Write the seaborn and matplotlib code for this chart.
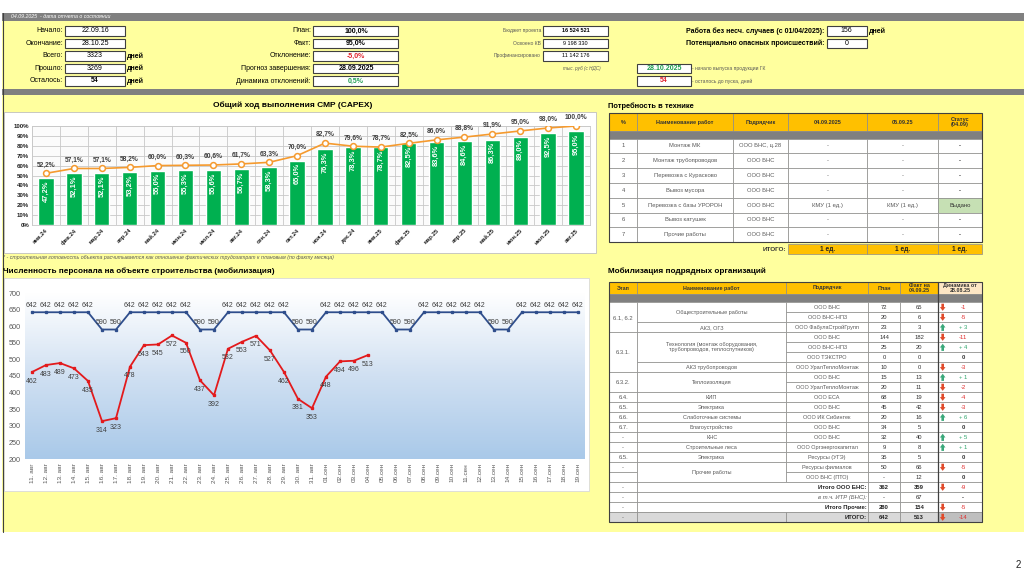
import numpy as np
import pandas as pd
import seaborn as sns
import matplotlib.pyplot as plt
from matplotlib.patches import Rectangle, FancyArrow
from matplotlib.colors import LinearSegmentedColormap

W, H = 1024, 574
YEL = "#FFFF9E"
ORANGE = "#FFC000"
GRAY = "#808080"
TXT = "#595959"

# ---- header figures ----
left_labels = ["Начало:", "Окончание:", "Всего:", "Прошло:", "Осталось:"]
left_values = ["22.09.16", "28.10.25", "3323", "3269", "54"]
left_units = ["", "", "дней", "дней", "дней"]
mid_labels = ["План:", "Факт:", "Отклонение:", "Прогноз завершения:", "Динамика отклонений:"]
mid_values = ["100,0%", "95,0%", "-5,0%", "28.09.2025", "0,5%"]
mid_colors = ["#000000", "#000000", "#E0202A", "#000000", "#1E9E50"]
fin_labels = ["Бюджет проекта", "Освоено КВ", "Профинансировано"]
fin_values = ["16 524 521", "9 198 330", "11 142 176"]

# ---- CAPEX chart ----
months = ["янв.24", "фев.24", "мар.24", "апр.24", "май.24", "июн.24", "июл.24",
          "авг.24", "сен.24", "окт.24", "ноя.24", "дек.24", "янв.25", "фев.25",
          "мар.25", "апр.25", "май.25", "июн.25", "июл.25", "авг.25"]
fact_pct = [47.2, 52.1, 52.1, 53.2, 55.0, 55.3, 55.6, 56.7, 58.3, 65.0,
            76.3, 78.3, 78.7, 82.5, 83.6, 84.6, 86.3, 89.0, 92.5, 95.0]
plan_pct = [52.2, 57.1, 57.1, 58.2, 60.0, 60.3, 60.6, 61.7, 63.3, 70.0,
            82.7, 79.6, 78.7, 82.5, 86.0, 88.8, 91.9, 95.0, 98.0, 100.0]

# ---- personnel chart ----
days = [f"{d}. авг" for d in range(11, 32)] + [f"{d:02d}.сен" for d in range(1, 20)]
plan_staff = [642, 642, 642, 642, 642, 590, 590, 642, 642, 642, 642, 642, 590, 590,
              642, 642, 642, 642, 642, 590, 590, 642, 642, 642, 642, 642, 590, 590,
              642, 642, 642, 642, 642, 590, 590, 642, 642, 642, 642, 642]
fact_staff = [462, 483, 489, 473, 435, 314, 323, 478, 543, 545, 572, 550, 437, 392,
              532, 553, 571, 527, 462, 381, 353, 448, 494, 496, 513]

# ---- equipment table ----
tech_head = ["%", "Наименование работ", "Подрядчик", "04.09.2025", "05.09.25", "Статус\n(04.09)"]
tech_no = ["1", "2", "3", "4", "5", "6", "7"]
tech_work = ["Монтаж МК", "Монтаж трубопроводов", "Перевозка с Курасково", "Вывоз мусора",
             "Перевозка с базы УРОРОН", "Вывоз катушек", "Прочие работы"]
tech_contr = ["ООО БНС, ц.28", "ООО БНС", "ООО БНС", "ООО БНС", "ООО БНС", "ООО БНС", "ООО БНС"]
tech_d1 = ["-", "-", "-", "-", "КМУ (1 ед.)", "-", "-"]
tech_d2 = ["-", "-", "-", "-", "КМУ (1 ед.)", "-", "-"]
tech_status = ["-", "-", "-", "-", "Выдано", "-", "-"]
tech_total = ["1 ед.", "1 ед.", "1 ед."]

# ---- mobilisation table ----
mob_head = ["Этап", "Наименование работ", "Подрядчик", "План", "Факт на\n04.09.25", "Динамика от\n28.08.25"]
mob_stage = ["6.1, 6.2", None, None, "6.3.1.", None, None, None, "6.3.2.", None, "6.4.",
             "6.5.", "6.6.", "6.7.", "-", "-", "6.5.", "-", "", "-", "-", "-", "-"]
mob_work = ["Общестроительные работы", None, "АКЗ, ОГЗ",
            "Технология (монтаж оборудования,\nтрубопроводов, теплоспутников)", None, None,
            "АКЗ трубопроводов", "Теплоизоляция", None, "КИП", "Электрика",
            "Слаботочные системы", "Благоустройство", "КНС", "Строительные леса",
            "Электрика", "Прочие работы", None]
mob_contr = ["ООО БНС", "ООО БНС-НПЗ", "ООО ФабулаСтройГрупп", "ООО БНС", "ООО БНС-НПЗ",
             "ООО ТЭКСТРО", "ООО УралТеплоМонтаж", "ООО БНС", "ООО УралТеплоМонтаж",
             "ООО ЕСА", "ООО БНС", "ООО ИК Сибинтек", "ООО БНС", "ООО БНС",
             "ООО Оргэнергокапитал", "Ресурсы (УГЭ)", "Ресурсы филиалов", "ООО БНС (ПТО)"]
mob_plan = ["72", "20", "23", "144", "25", "0", "10", "15", "20", "68", "45", "20", "34",
            "32", "9", "35", "50", "-"]
mob_fact = ["65", "6", "3", "182", "20", "0", "0", "13", "11", "19", "42", "16", "5",
            "40", "8", "5", "66", "12"]
mob_delta = [-1, -5, 3, -11, 4, 0, -3, 1, -2, -4, -3, 6, 0, 5, 1, 0, -5, 0]
tot_labels = ["Итого ООО БНС:", "в т.ч. ИТР (БНС):", "Итого Прочие:", "ИТОГО:"]
tot_plan = ["362", "-", "280", "642"]
tot_fact = ["359", "67", "154", "513"]
tot_delta = [-9, None, -5, -14]

sns.set_theme(style="white")
plt.rcParams["font.family"] = ["Liberation Sans", "DejaVu Sans"]

fig = plt.figure(figsize=(W / 100, H / 100), dpi=100)
bg = fig.add_axes([0, 0, 1, 1], zorder=0)
bg.set_xlim(0, W)
bg.set_ylim(H, 0)
bg.axis("off")


def px_axes(x0, y0, x1, y1):
    return fig.add_axes([x0 / W, 1 - y1 / H, (x1 - x0) / W, (y1 - y0) / H], zorder=2)


def box(x0, y0, x1, y1, fc, ec="none", lw=0.6, z=1):
    bg.add_patch(Rectangle((x0, y0), x1 - x0, y1 - y0, facecolor=fc, edgecolor=ec, linewidth=lw, zorder=z))


def txt(x, y, s, size=5, ha="left", color="#000000", bold=False, italic=False, z=3):
    bg.text(x, y, s, fontsize=size, ha=ha, va="center", color=color, zorder=z,
            fontweight="bold" if bold else "normal", fontstyle="italic" if italic else "normal",
            linespacing=1.0)


def cell(x0, x1, y0, y1, s="", fc="white", color=TXT, size=4.2, bold=False, italic=False, ha="center"):
    box(x0, y0, x1, y1, fc, ec="#8C8C8C", lw=0.5)
    if s:
        tx = {"center": (x0 + x1) / 2, "right": x1 - 2, "left": x0 + 2}[ha]
        txt(tx, (y0 + y1) / 2, s, size=size, ha=ha, color=color, bold=bold, italic=italic)


# ---- page background ----
box(2, 13, W, 21, GRAY)
box(2, 21, W, 89, YEL)
box(2, 89, W, 94.5, GRAY)
box(2, 94.5, W, 532, YEL)
bg.plot([2.5, 2.5], [13, 532], color="#404040", lw=0.8, zorder=2)
txt(11, 17, "04.09.2025  - дата отчета о состоянии", size=3.8, color="white", italic=True)
txt(1018, 565, "2", size=7, ha="center", color="#222222")

# ---- header block ----
row_y = [30.9 + 12.5 * i for i in range(5)]
for y, lab, val, unit in zip(row_y, left_labels, left_values, left_units):
    txt(63, y, lab, size=5, ha="right")
    box(65, y - 4.8, 125, y + 4.8, "white", ec="#404040", lw=0.8, z=2)
    txt(95, y, val, size=5, ha="center", bold=(val == "54"))
    if unit:
        txt(127, y, unit, size=5, bold=True)
for y, lab, val, col in zip(row_y, mid_labels, mid_values, mid_colors):
    txt(311, y, lab, size=5, ha="right")
    box(313.3, y - 4.8, 398.3, y + 4.8, "white", ec="#404040", lw=0.8, z=2)
    txt(356, y, val, size=5, ha="center", bold=True, color=col)
for y, lab, val in zip(row_y, fin_labels, fin_values):
    txt(541, y, lab, size=3.6, ha="right", color=TXT)
    box(543.3, y - 4.8, 607.7, y + 4.8, "white", ec="#404040", lw=0.8, z=2)
    txt(575.5, y, val, size=4, ha="center", bold=(val == "16 524 521"))
txt(601, row_y[3], "тыс. руб (с НДС)", size=3.3, ha="right", italic=True, color=TXT)
box(636.7, row_y[3] - 4.8, 691, row_y[3] + 4.8, "white", ec="#404040", lw=0.8, z=2)
txt(664, row_y[3], "28.10.2025", size=5, ha="center", bold=True, color="#1E9E50")
txt(692.5, row_y[3], "- начало выпуска продукции ГК", size=3.6, color=TXT)
box(636.7, row_y[4] - 4.8, 691, row_y[4] + 4.8, "white", ec="#404040", lw=0.8, z=2)
txt(664, row_y[4], "54", size=5, ha="center", bold=True, color="#E0202A")
txt(692.5, row_y[4], "- осталось до пуска, дней", size=3.6, color=TXT)
txt(824.5, row_y[0], "Работа без несч. случаев (с 01/04/2025):", size=5, ha="right", bold=True)
box(826.7, row_y[0] - 4.8, 866.7, row_y[0] + 4.8, "white", ec="#404040", lw=0.8, z=2)
txt(846.7, row_y[0], "156", size=5, ha="center")
txt(868.5, row_y[0], "дней", size=5, bold=True)
txt(824.5, row_y[1], "Потенциально опасных происшествий:", size=5, ha="right", bold=True)
box(826.7, row_y[1] - 4.8, 866.7, row_y[1] + 4.8, "white", ec="#404040", lw=0.8, z=2)
txt(846.7, row_y[1], "0", size=5, ha="center")

# ---- CAPEX chart ----
txt(293, 105, "Общий ход выполнения СМР (CAPEX)", size=6, ha="center", bold=True)
box(3.5, 112, 596, 253, "white", ec="#BFBFBF", lw=0.6)
txt(3, 258, "* - строительная готовность объекта расчитывается как отношение фактических "
            "трудозатрат к плановым (по факту месяца)", size=3.8, italic=True, color=TXT)

cap = pd.DataFrame({"month": months, "fact": fact_pct, "plan": plan_pct})
ax1 = px_axes(32, 126, 590, 225)
ax1.set_facecolor("#FBFBFB")
sns.barplot(data=cap, x="month", y="fact", color="#00B050", width=0.55, saturation=1,
            ax=ax1, zorder=2)
sns.pointplot(data=cap, x="month", y="plan", color="#F59A2E", markers="o", markersize=4.2,
              linewidth=1.2, markeredgewidth=1.1, errorbar=None, ax=ax1, zorder=3)
ax1.lines[-1].set_markerfacecolor("white")
for i, (f, p) in enumerate(zip(fact_pct, plan_pct)):
    ax1.text(i, f - 2.5, f"{f:.1f}%".replace(".", ","), rotation=90, ha="center", va="top",
             color="white", fontsize=5.4, fontweight="bold", zorder=4)
    ax1.annotate(f"{p:.1f}%".replace(".", ","), (i, p), xytext=(0, 6), textcoords="offset points",
                 ha="center", va="center", color="#404040", fontsize=4.8, fontweight="bold",
                 zorder=4, annotation_clip=False)
ax1.set_xlim(-0.5, len(months) - 0.5)
ax1.set_ylim(0, 100)
ax1.set_yticks(range(0, 101, 10))
ax1.set_yticklabels([f"{v}%" for v in range(0, 101, 10)], fontsize=4.4, fontweight="bold",
                    color="#222222")
ax1.set_xticks(range(len(months)))
ax1.set_xticklabels(months, rotation=45, ha="right", rotation_mode="anchor", fontsize=4.2,
                    fontweight="bold", color="#222222")
ax1.tick_params(length=0, pad=2)
ax1.yaxis.grid(True, color="#C8C8C8", lw=0.6)
for k in range(len(months) + 1):
    ax1.axvline(k - 0.5, color="#C8C8C8", lw=0.6, zorder=0)
ax1.set_axisbelow(True)
ax1.set_xlabel("")
ax1.set_ylabel("")
for s in ax1.spines.values():
    s.set_color("#C8C8C8")
    s.set_linewidth(0.6)

# ---- personnel chart ----
txt(3, 271.5, "Численность персонала на объекте строительства (мобилизация)", size=5.9, bold=True)
box(4, 278, 589, 491, "white", ec="#D9D9D9", lw=0.6)
staff = pd.DataFrame({"day": days, "plan": plan_staff,
                      "fact": fact_staff + [np.nan] * (len(days) - len(fact_staff))})
ax2 = px_axes(25, 293, 585, 459)
sns.pointplot(data=staff, x="day", y="plan", color="#2F4E8C", markers="s", markersize=2.0,
              linewidth=1.3, errorbar=None, ax=ax2, zorder=3)
sns.pointplot(data=staff, x="day", y="fact", color="#E31A1C", markers="s", markersize=2.0,
              linewidth=1.3, errorbar=None, ax=ax2, zorder=4)
cmap = LinearSegmentedColormap.from_list("sky", ["#FFFFFF", "#D0E0F2", "#A9C9E9"])
ax2.imshow(np.linspace(0, 1, 256).reshape(-1, 1), cmap=cmap, aspect="auto", origin="upper",
           extent=[-0.5, len(days) - 0.5, 200, 700], zorder=0)
for i, v in enumerate(plan_staff):
    ax2.annotate(str(v), (i, v), xytext=(0, 5), textcoords="offset points", ha="center",
                 va="center", fontsize=5, color="#404040", zorder=5)
for i, v in enumerate(fact_staff):
    ax2.annotate(str(v), (i, v), xytext=(0, -6.5), textcoords="offset points", ha="center",
                 va="center", fontsize=5, color="#404040", zorder=5)
ax2.set_xlim(-0.5, len(days) - 0.5)
ax2.set_ylim(200, 700)
ax2.set_yticks(range(200, 701, 50))
ax2.tick_params(axis="y", labelsize=5.2, colors="#595959", length=0, pad=3)
ax2.tick_params(axis="x", labelrotation=90, labelsize=4.6, colors="#595959", length=0, pad=3)
ax2.set_xlabel("")
ax2.set_ylabel("")
for s in ax2.spines.values():
    s.set_visible(False)

# ---- equipment table ----
txt(608, 106.5, "Потребность в технике", size=5.4, bold=True)
tx = [609, 637.3, 732.7, 788.3, 867.3, 938.3, 981.7]
for j, h in enumerate(tech_head):
    cell(tx[j], tx[j + 1], 113.3, 131, h, fc=ORANGE, color="#333333", size=4, bold=True)
box(tx[0], 131, tx[-1], 138.5, GRAY, ec="#8C8C8C", lw=0.5)
rh = 14.8
for i in range(len(tech_no)):
    y0, y1 = 138.5 + i * rh, 138.5 + (i + 1) * rh
    vals = [tech_no[i], tech_work[i], tech_contr[i], tech_d1[i], tech_d2[i]]
    for j, v in enumerate(vals):
        cell(tx[j], tx[j + 1], y0, y1, v, size=4.2)
    ok = tech_status[i] != "-"
    cell(tx[5], tx[6], y0, y1, tech_status[i], fc="#C6E0B4" if ok else "white",
         color="#333333", size=4.2, bold=not ok)
ty0 = 138.5 + len(tech_no) * rh + 2
txt(786, ty0 + 5, "ИТОГО:", size=4.6, ha="right", bold=True, color="#333333")
for j, v in enumerate(tech_total):
    cell(tx[3 + j], tx[4 + j], ty0, ty0 + 10, v, fc=ORANGE, color="#222222", size=4.8, bold=True)
box(tx[0], 113.3, tx[-1], 138.5 + len(tech_no) * rh, "none", ec="#404040", lw=0.8, z=2)

# ---- mobilisation table ----
txt(608, 271.5, "Мобилизация подрядных организаций", size=5.9, bold=True)
mx = [609, 637.3, 786, 868.3, 900, 938.3, 981.7]
for j, h in enumerate(mob_head):
    cell(mx[j], mx[j + 1], 281.7, 294.3, h, fc="#FDE6C4" if j == 5 else ORANGE,
         color="#333333", size=3.9, bold=True)
box(mx[0], 294.3, mx[-1], 302.3, GRAY, ec="#8C8C8C", lw=0.5)
r0, rr = 302.3, 10.0


def runs(col):
    out = []
    for i, v in enumerate(col):
        if v is None:
            out[-1][1] = i + 1
        else:
            out.append([i, i + 1, v])
    return out


def delta_cell(y0, d, fc="white"):
    y1 = y0 + rr
    cell(mx[5], mx[6], y0, y1, fc=fc)
    yc = (y0 + y1) / 2
    if d is None:
        txt(963, yc, "-", size=4.2, ha="center", bold=True, color="#333333")
    elif d == 0:
        txt(963, yc, "0", size=4.2, ha="center", bold=True, color="#333333")
    else:
        up = d > 0
        c = "#3AA87A" if up else "#E04A2A"
        if up:
            arr = FancyArrow(942.7, yc + 3.6, 0, -7.2, width=2.6, head_width=5.6, head_length=3.8,
                             length_includes_head=True, color=c, lw=0, zorder=3)
        else:
            arr = FancyArrow(942.7, yc - 3.6, 0, 7.2, width=2.6, head_width=5.6, head_length=3.8,
                             length_includes_head=True, color=c, lw=0, zorder=3)
        bg.add_patch(arr)
        txt(963, yc, f"+ {d}" if up else str(d), size=4.2, ha="center",
            color="#2EA66B" if up else "#E02B2B")


for a, b, s in runs(mob_stage):
    cell(mx[0], mx[1], r0 + a * rr, r0 + b * rr, s, fc="#D9D9D9" if a == 21 else "white")
for a, b, s in runs(mob_work):
    cell(mx[1], mx[2], r0 + a * rr, r0 + b * rr, s, size=4.0)
for i in range(len(mob_contr)):
    y0 = r0 + i * rr
    cell(mx[2], mx[3], y0, y0 + rr, mob_contr[i], size=4.0)
    cell(mx[3], mx[4], y0, y0 + rr, mob_plan[i], color="#333333", size=4.2)
    cell(mx[4], mx[5], y0, y0 + rr, mob_fact[i], color="#333333", size=4.2)
    delta_cell(y0, mob_delta[i])
for k, lab in enumerate(tot_labels):
    i = len(mob_contr) + k
    y0 = r0 + i * rr
    last = k == len(tot_labels) - 1
    ital = lab.startswith("в т.ч.")
    fc = "#D9D9D9" if last else "white"
    if last:
        cell(mx[1], mx[2], y0, y0 + rr, fc=fc)
        cell(mx[2], mx[3], y0, y0 + rr, lab, fc=fc, color="#222222", size=4.2, bold=True, ha="right")
    else:
        cell(mx[1], mx[3], y0, y0 + rr, lab, color=TXT if ital else "#222222", size=4.2,
             bold=not ital, italic=ital, ha="right")
    cell(mx[3], mx[4], y0, y0 + rr, tot_plan[k], fc=fc, color="#222222", size=4.2, bold=not ital)
    cell(mx[4], mx[5], y0, y0 + rr, tot_fact[k], fc=fc, color="#222222", size=4.2, bold=not ital)
    delta_cell(y0, tot_delta[k], fc="#BFBFBF" if last else "white")
yb = r0 + (len(mob_contr) + len(tot_labels)) * rr
bg.plot([mx[5], mx[5]], [281.7, yb], color="#404040", lw=0.9, zorder=2)
box(mx[0], 281.7, mx[-1], yb, "none", ec="#404040", lw=0.8, z=2)

fig.savefig("out.png", dpi=100)
